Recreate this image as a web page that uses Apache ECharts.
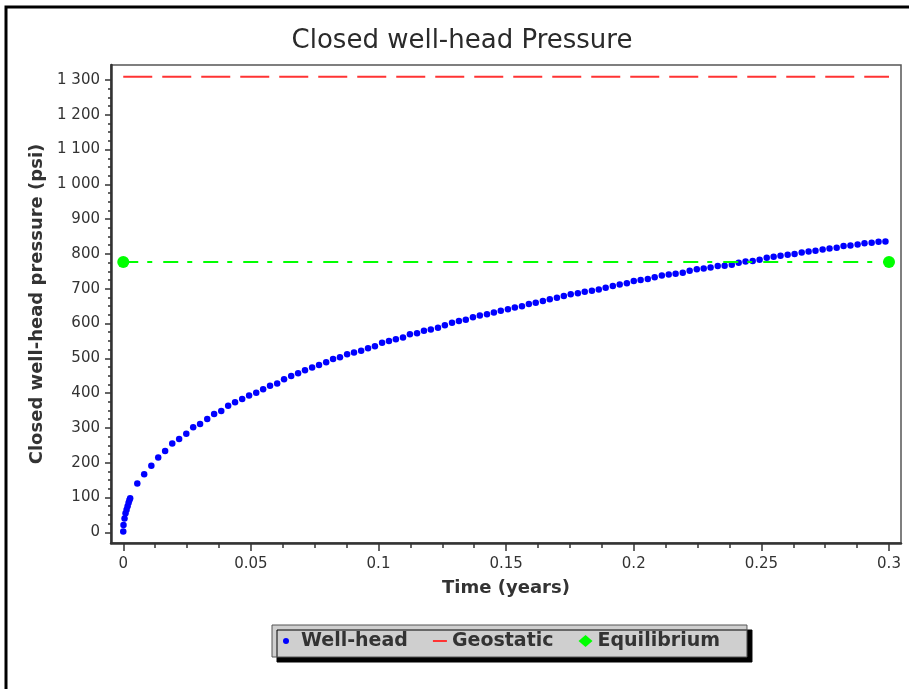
<!DOCTYPE html>
<html><head><meta charset="utf-8">
<script src="https://cdn.jsdelivr.net/npm/echarts@6/dist/echarts.min.js"></script>
<style>html,body{margin:0;padding:0;background:#fff}#c{width:909px;height:689px}</style>
</head><body><div id="c"></div>
<script>
const chartTitle = 'Closed well-head Pressure';
const xName = 'Time (years)';
const yName = 'Closed well-head pressure (psi)';

// major tick values
const xTickValues = [0, 0.05, 0.1, 0.15, 0.2, 0.25, 0.3];
const yTickValues = [0, 100, 200, 300, 400, 500, 600, 700, 800, 900, 1000, 1100, 1200, 1300];

// Well-head: early cluster + roughly daily readings (time in years, pressure in psi)
const wellTime = [0, 0.0001, 0.0005, 0.0009, 0.0013, 0.0017, 0.0021, 0.0024,
  0.0027, 0.0055, 0.0082, 0.0110, 0.0137, 0.0164, 0.0192, 0.0219, 0.0247, 0.0274,
  0.0301, 0.0329, 0.0356, 0.0384, 0.0411, 0.0438, 0.0466, 0.0493, 0.0521, 0.0548,
  0.0575, 0.0603, 0.0630, 0.0658, 0.0685, 0.0712, 0.0740, 0.0767, 0.0795, 0.0822,
  0.0849, 0.0877, 0.0904, 0.0932, 0.0959, 0.0986, 0.1014, 0.1041, 0.1068, 0.1096,
  0.1123, 0.1151, 0.1178, 0.1205, 0.1233, 0.1260, 0.1288, 0.1315, 0.1342, 0.1370,
  0.1397, 0.1425, 0.1452, 0.1479, 0.1507, 0.1534, 0.1562, 0.1589, 0.1616, 0.1644,
  0.1671, 0.1699, 0.1726, 0.1753, 0.1781, 0.1808, 0.1836, 0.1863, 0.1890, 0.1918,
  0.1945, 0.1973, 0.2000, 0.2027, 0.2055, 0.2082, 0.2110, 0.2137, 0.2164, 0.2192,
  0.2219, 0.2247, 0.2274, 0.2301, 0.2329, 0.2356, 0.2384, 0.2411, 0.2438, 0.2466,
  0.2493, 0.2521, 0.2548, 0.2575, 0.2603, 0.2630, 0.2658, 0.2685, 0.2712, 0.2740,
  0.2767, 0.2795, 0.2822, 0.2849, 0.2877, 0.2904, 0.2932, 0.2959, 0.2986];
const wellPsi = [2, 21, 40, 55, 65, 75, 85, 92,
  98, 140, 167, 191, 215, 234, 255, 268, 283, 302,
  311, 326, 340, 349, 364, 374, 383, 393, 401, 411,
  421, 428, 440, 449, 457, 466, 474, 481, 489, 498,
  503, 512, 517, 522, 529, 535, 545, 550, 555, 560,
  569, 572, 579, 583, 588, 595, 602, 607, 611, 618,
  623, 627, 632, 637, 641, 646, 650, 656, 660, 665,
  670, 674, 679, 684, 687, 691, 694, 698, 703, 708,
  712, 716, 722, 725, 728, 733, 738, 741, 743, 746,
  752, 756, 758, 761, 765, 766, 769, 775, 778, 780,
  783, 789, 792, 795, 798, 800, 804, 807, 809, 813,
  816, 818, 823, 824, 827, 831, 832, 835, 836];

const geoTime = [0, 0.3];
const geoPsi = [1309, 1309];
const eqTime = [0, 0.3];
const eqPsi = [777, 777];

const zip = (a, b) => a.map((v, i) => [v, b[i]]);
// minor ticks: 4 subdivisions between consecutive major ticks
function minorOf(major) {
  const out = [];
  for (let i = 0; i < major.length - 1; i++) {
    const step = (major[i + 1] - major[i]) / 4;
    for (let j = 1; j < 4; j++) out.push(+(major[i] + step * j).toFixed(6));
  }
  return out;
}
const FONT = 'DejaVu Sans';
const INK = '#333';
const X_MIN = -0.0048, X_MAX = 0.3047;
const Y_MIN = -30.7, Y_MAX = 1343;

function yFmt(v) {
  v = Math.round(v);
  if (v >= 1000) {
    return Math.floor(v / 1000) + ' ' + String(v % 1000).padStart(3, '0');
  }
  return String(v);
}
function xFmt(v) { return String(+v.toFixed(4)); }

const tickLine = {color: INK, width: 1.5};
const chart = echarts.init(document.getElementById('c'), null, {renderer: 'canvas'});
chart.setOption({
  animation: false,
  backgroundColor: '#fff',
  title: {
    text: chartTitle, left: 462, top: 28, padding: 0, textAlign: 'center',
    textStyle: {fontFamily: FONT, fontSize: 26, fontWeight: 'normal', color: '#2a2a2a'}
  },
  graphic: [{
    type: 'rect', silent: true, z: 0,
    shape: {x: 6, y: 7, width: 1000, height: 1000},
    style: {fill: 'none', stroke: '#000', lineWidth: 3}
  }],
  legend: {
    left: 272, top: 625, orient: 'horizontal',
    padding: [6, 27, 6, 10], itemGap: 25, itemWidth: 14, itemHeight: 12,
    backgroundColor: '#cfcfcf', borderColor: '#555', borderWidth: 1,
    shadowColor: '#000', shadowBlur: 0, shadowOffsetX: 5, shadowOffsetY: 5,
    textStyle: {fontFamily: FONT, fontWeight: 'bold', fontSize: 19, color: INK, lineHeight: 20},
    data: [
      {name: 'Well-head', icon: 'path://M0,0 M14,12 M4,3 A3,3 0 1 1 4,9 A3,3 0 1 1 4,3 Z'},
      {name: 'Geostatic', icon: 'path://M0,0 M14,12 M0,5 L14,5 L14,7 L0,7 Z'},
      {name: 'Equilibrium', icon: 'path://M7,0 L14,6 L7,12 L0,6 Z'}
    ]
  },
  grid: [
    {left: 111, right: 8, top: 65, bottom: 146, show: true, borderColor: '#555', borderWidth: 1.5, outerBoundsMode: 'none'}
  ],
  xAxis: [
    {type: 'value', min: X_MIN, max: X_MAX, position: 'bottom',
      axisLine: {show: true, onZero: false, lineStyle: {color: INK, width: 2.5}},
      axisTick: {show: true, length: 8, lineStyle: tickLine, customValues: xTickValues},
      axisLabel: {margin: 14, fontFamily: FONT, fontSize: 15, color: INK, customValues: xTickValues, formatter: xFmt},
      splitLine: {show: false},
      name: xName, nameLocation: 'middle', nameGap: 36,
      nameTextStyle: {fontFamily: FONT, fontWeight: 'bold', fontSize: 18, color: INK}},
    {type: 'value', min: X_MIN, max: X_MAX, position: 'bottom',
      axisLine: {show: false, onZero: false},
      axisTick: {show: true, length: 5, lineStyle: tickLine, customValues: minorOf(xTickValues)},
      axisLabel: {show: false}, splitLine: {show: false}}
  ],
  yAxis: [
    {type: 'value', min: Y_MIN, max: Y_MAX, position: 'left',
      axisLine: {show: true, onZero: false, lineStyle: {color: INK, width: 2.5}},
      axisTick: {show: true, length: 6, lineStyle: tickLine, customValues: yTickValues},
      axisLabel: {margin: 11, fontFamily: FONT, fontSize: 15, color: INK, customValues: yTickValues, formatter: yFmt},
      splitLine: {show: false},
      name: yName, nameLocation: 'middle', nameGap: 58,
      nameTextStyle: {fontFamily: FONT, fontWeight: 'bold', fontSize: 18, color: INK}},
    {type: 'value', min: Y_MIN, max: Y_MAX, position: 'left',
      axisLine: {show: false, onZero: false},
      axisTick: {show: true, length: 3, lineStyle: tickLine, customValues: minorOf(yTickValues)},
      axisLabel: {show: false}, splitLine: {show: false}}
  ],
  series: [
    {name: 'Well-head', type: 'scatter', xAxisIndex: 0, yAxisIndex: 0,
      symbol: 'circle', symbolSize: 6.5, itemStyle: {color: '#0000ff', opacity: 1},
      data: zip(wellTime, wellPsi)},
    {name: 'Geostatic', type: 'line', xAxisIndex: 0, yAxisIndex: 0,
      symbol: 'none', itemStyle: {color: '#ff3333'},
      lineStyle: {color: '#ff3333', width: 2, type: [29, 10]},
      data: zip(geoTime, geoPsi)},
    {name: 'Equilibrium', type: 'line', xAxisIndex: 0, yAxisIndex: 0,
      symbol: 'circle', symbolSize: 12, itemStyle: {color: '#00ff00'},
      lineStyle: {color: '#00ff00', width: 2, type: [15, 9, 5, 11]},
      data: zip(eqTime, eqPsi)}
  ]
});
</script>
</body></html>
